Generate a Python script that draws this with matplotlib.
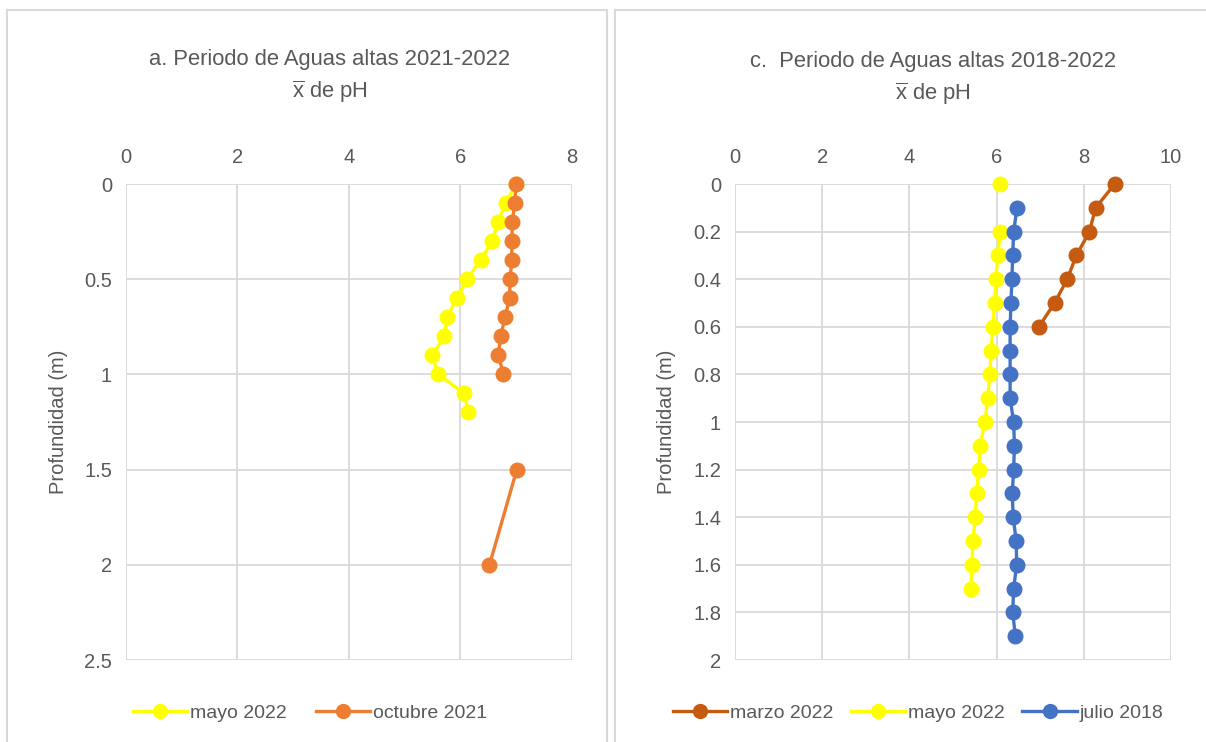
import numpy as np
import matplotlib
matplotlib.use("Agg")
import matplotlib.pyplot as plt
from matplotlib.patches import Rectangle

FONT = ['Liberation Sans', 'DejaVu Sans']
plt.rcParams['font.family'] = FONT
plt.rcParams['mathtext.fontset'] = 'custom'
plt.rcParams['mathtext.rm'] = 'Liberation Sans'
plt.rcParams['mathtext.it'] = 'Liberation Sans'

# ---------------- data ----------------
# Panel a
a_title = "a. Periodo de Aguas altas 2021-2022"
a_mayo_depth = [0, 0.1, 0.2, 0.3, 0.4, 0.5, 0.6, 0.7, 0.8, 0.9, 1.0, 1.1, 1.2]
a_mayo_ph = [7.00, 6.81, 6.67, 6.57, 6.36, 6.12, 5.93, 5.76, 5.71, 5.49, 5.60, 6.07, 6.14]
a_oct_depth = [0, 0.1, 0.2, 0.3, 0.4, 0.5, 0.6, 0.7, 0.8, 0.9, 1.0, 1.1, 1.5, 2.0]
a_oct_ph = [7.00, 6.97, 6.93, 6.92, 6.92, 6.89, 6.88, 6.80, 6.72, 6.68, 6.77, np.nan, 7.01, 6.52]
a_xticks = [0, 2, 4, 6, 8]
a_yticks = [0, 0.5, 1, 1.5, 2, 2.5]
a_ylabels = ["0", "0.5", "1", "1.5", "2", "2.5"]

# Panel c
c_title = "c.  Periodo de Aguas altas 2018-2022"
c_marzo_depth = [0, 0.1, 0.2, 0.3, 0.4, 0.5, 0.6]
c_marzo_ph = [8.71, 8.27, 8.13, 7.83, 7.62, 7.33, 6.97]
c_mayo_depth = [0, 0.1, 0.2, 0.3, 0.4, 0.5, 0.6, 0.7, 0.8, 0.9, 1.0, 1.1, 1.2, 1.3, 1.4, 1.5, 1.6, 1.7]
c_mayo_ph = [6.07, np.nan, 6.08, 6.03, 5.98, 5.96, 5.91, 5.88, 5.84, 5.80, 5.73, 5.62, 5.59, 5.54, 5.51, 5.46, 5.43, 5.41]
c_julio_depth = [0.1, 0.2, 0.3, 0.4, 0.5, 0.6, 0.7, 0.8, 0.9, 1.0, 1.1, 1.2, 1.3, 1.4, 1.5, 1.6, 1.7, 1.8, 1.9]
c_julio_ph = [6.47, 6.39, 6.37, 6.35, 6.33, 6.31, 6.31, 6.31, 6.31, 6.39, 6.41, 6.39, 6.36, 6.38, 6.45, 6.46, 6.39, 6.37, 6.43]
c_xticks = [0, 2, 4, 6, 8, 10]
c_yticks = [0, 0.2, 0.4, 0.6, 0.8, 1.0, 1.2, 1.4, 1.6, 1.8, 2.0]
c_ylabels = ["0", "0.2", "0.4", "0.6", "0.8", "1", "1.2", "1.4", "1.6", "1.8", "2"]

subtitle = r"$\overline{\mathrm{x}}$ de pH"
ylabel = "Profundidad (m)"

YELLOW = "#FFFF00"
ORANGE = "#ED7D31"
BROWN = "#C55A11"
BLUE = "#4472C4"
TXT = "#595959"
GRID = "#D9D9D9"

W, H = 1206, 742
fig = plt.figure(figsize=(W / 100, H / 100), dpi=100)

# panel frames
fig.patches.append(Rectangle((7 / W, -0.1), 600 / W, 1.1 - 10 / H, transform=fig.transFigure,
                             fill=False, edgecolor=GRID, lw=1.5, zorder=0))
fig.patches.append(Rectangle((615 / W, -0.1), 600 / W, 1.1 - 10 / H, transform=fig.transFigure,
                             fill=False, edgecolor=GRID, lw=1.5, zorder=0))

FS = 14.5
TFS = 15.8
LFS = 14
LW = 2.4
MS = 10.5


def setup(ax, xticks, yticks, ylabels, ymax):
    ax.set_xlim(xticks[0], xticks[-1])
    ax.set_ylim(ymax, 0)
    ax.xaxis.tick_top()
    ax.set_xticks(xticks)
    ax.set_xticklabels([str(t) for t in xticks])
    ax.set_yticks(yticks)
    ax.set_yticklabels(ylabels)
    ax.tick_params(length=0, labelsize=FS, colors=TXT, pad=10)
    ax.tick_params(axis='x', pad=12)
    ax.grid(True, color=GRID, lw=1.3)
    ax.set_axisbelow(True)
    for s in ax.spines.values():
        s.set_visible(False)
    ax.set_ylabel(ylabel, fontsize=FS, color=TXT, labelpad=12)


# ---- panel a ----
axa = fig.add_axes([126 / W, 1 - 660 / H, 446 / W, 476 / H])
setup(axa, a_xticks, a_yticks, a_ylabels, 2.5)
axa.plot(a_mayo_ph, a_mayo_depth, color=YELLOW, lw=LW, marker='o', ms=MS, label="mayo 2022", clip_on=False)
axa.plot(a_oct_ph, a_oct_depth, color=ORANGE, lw=LW, marker='o', ms=MS, label="octubre 2021", clip_on=False)
fig.text(330 / W, 1 - 60 / H, a_title, ha='center', va='center', fontsize=TFS, color=TXT)
fig.text(330 / W, 1 - 92 / H, subtitle, ha='center', va='center', fontsize=TFS, color=TXT)
fig.legend(*axa.get_legend_handles_labels(), loc='center', bbox_to_anchor=(310 / W, 1 - 713 / H),
           ncol=2, frameon=False, fontsize=LFS, labelcolor=TXT, handlelength=2.8,
           handletextpad=0.15, columnspacing=1.5, markerscale=0.95)

# ---- panel c ----
axc = fig.add_axes([735 / W, 1 - 660 / H, 436 / W, 476 / H])
setup(axc, c_xticks, c_yticks, c_ylabels, 2.0)
axc.plot(c_marzo_ph, c_marzo_depth, color=BROWN, lw=LW, marker='o', ms=MS, label="marzo 2022", clip_on=False)
axc.plot(c_mayo_ph, c_mayo_depth, color=YELLOW, lw=LW, marker='o', ms=MS, label="mayo 2022", clip_on=False)
axc.plot(c_julio_ph, c_julio_depth, color=BLUE, lw=LW, marker='o', ms=MS, label="julio 2018", clip_on=False)
fig.text(933 / W, 1 - 62 / H, c_title, ha='center', va='center', fontsize=TFS, color=TXT)
fig.text(933 / W, 1 - 94 / H, subtitle, ha='center', va='center', fontsize=TFS, color=TXT)
fig.legend(*axc.get_legend_handles_labels(), loc='center', bbox_to_anchor=(918 / W, 1 - 713 / H),
           ncol=3, frameon=False, fontsize=LFS, labelcolor=TXT, handlelength=2.8,
           handletextpad=0.15, columnspacing=0.9, markerscale=0.95)

fig.savefig("out.png", dpi=100)
